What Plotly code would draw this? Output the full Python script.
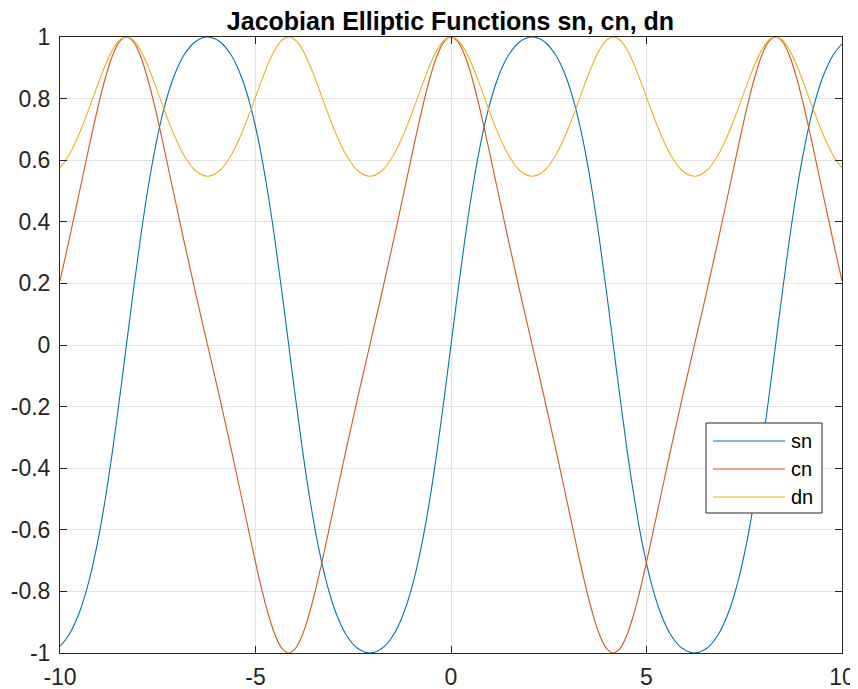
import plotly.graph_objects as go

# Sample points (x, sn, cn, dn)
x = [-10.0, -9.7655, -9.4977, -9.2579, -9.0411, -8.8420, -8.6552, -8.4763, -8.3011,
     -8.1259, -7.9470, -7.7602, -7.5611, -7.3443, -7.1045, -6.8367, -6.5408, -6.2258,
     -5.9109, -5.6150, -5.3472, -5.1074, -4.8906, -4.6915, -4.5047, -4.3258, -4.1506,
     -3.9754, -3.7965, -3.6097, -3.4106, -3.1938, -2.9540, -2.6862, -2.3903, -2.0753,
     -1.7603, -1.4644, -1.1966, -0.9568, -0.7400, -0.5409, -0.3541, -0.1752, 0.0,
     0.1752, 0.3541, 0.5409, 0.7400, 0.9568, 1.1966, 1.4644, 1.7603, 2.0753,
     2.3903, 2.6862, 2.9540, 3.1938, 3.4106, 3.6097, 3.7965, 3.9754, 4.1506,
     4.3258, 4.5047, 4.6915, 4.8906, 5.1074, 5.3472, 5.6150, 5.9109, 6.2258,
     6.5408, 6.8367, 7.1045, 7.3443, 7.5611, 7.7602, 7.9470, 8.1259, 8.3011,
     8.4763, 8.6552, 8.8420, 9.0411, 9.2579, 9.4977, 9.7655, 10.0]

sn = [-0.9781, -0.9397, -0.8660, -0.7660, -0.6428, -0.5, -0.3420, -0.1736, 0.0,
      0.1736, 0.3420, 0.5, 0.6428, 0.7660, 0.8660, 0.9397, 0.9848, 1.0,
      0.9848, 0.9397, 0.8660, 0.7660, 0.6428, 0.5, 0.3420, 0.1736, 0.0,
      -0.1736, -0.3420, -0.5, -0.6428, -0.7660, -0.8660, -0.9397, -0.9848, -1.0,
      -0.9848, -0.9397, -0.8660, -0.7660, -0.6428, -0.5, -0.3420, -0.1736, 0.0,
      0.1736, 0.3420, 0.5, 0.6428, 0.7660, 0.8660, 0.9397, 0.9848, 1.0,
      0.9848, 0.9397, 0.8660, 0.7660, 0.6428, 0.5, 0.3420, 0.1736, 0.0,
      -0.1736, -0.3420, -0.5, -0.6428, -0.7660, -0.8660, -0.9397, -0.9848, -1.0,
      -0.9848, -0.9397, -0.8660, -0.7660, -0.6428, -0.5, -0.3420, -0.1736, 0.0,
      0.1736, 0.3420, 0.5, 0.6428, 0.7660, 0.8660, 0.9397, 0.9781]

cn = [0.2081, 0.3420, 0.5, 0.6428, 0.7660, 0.8660, 0.9397, 0.9848, 1.0,
      0.9848, 0.9397, 0.8660, 0.7660, 0.6428, 0.5, 0.3420, 0.1736, 0.0,
      -0.1736, -0.3420, -0.5, -0.6428, -0.7660, -0.8660, -0.9397, -0.9848, -1.0,
      -0.9848, -0.9397, -0.8660, -0.7660, -0.6428, -0.5, -0.3420, -0.1736, 0.0,
      0.1736, 0.3420, 0.5, 0.6428, 0.7660, 0.8660, 0.9397, 0.9848, 1.0,
      0.9848, 0.9397, 0.8660, 0.7660, 0.6428, 0.5, 0.3420, 0.1736, 0.0,
      -0.1736, -0.3420, -0.5, -0.6428, -0.7660, -0.8660, -0.9397, -0.9848, -1.0,
      -0.9848, -0.9397, -0.8660, -0.7660, -0.6428, -0.5, -0.3420, -0.1736, 0.0,
      0.1736, 0.3420, 0.5, 0.6428, 0.7660, 0.8660, 0.9397, 0.9848, 1.0,
      0.9848, 0.9397, 0.8660, 0.7660, 0.6428, 0.5, 0.3420, 0.2081]

dn = [0.5747, 0.6180, 0.6892, 0.7676, 0.8431, 0.9083, 0.9582, 0.9894, 1.0,
      0.9894, 0.9582, 0.9083, 0.8431, 0.7676, 0.6892, 0.6180, 0.5667, 0.5477,
      0.5667, 0.6180, 0.6892, 0.7676, 0.8431, 0.9083, 0.9582, 0.9894, 1.0,
      0.9894, 0.9582, 0.9083, 0.8431, 0.7676, 0.6892, 0.6180, 0.5667, 0.5477,
      0.5667, 0.6180, 0.6892, 0.7676, 0.8431, 0.9083, 0.9582, 0.9894, 1.0,
      0.9894, 0.9582, 0.9083, 0.8431, 0.7676, 0.6892, 0.6180, 0.5667, 0.5477,
      0.5667, 0.6180, 0.6892, 0.7676, 0.8431, 0.9083, 0.9582, 0.9894, 1.0,
      0.9894, 0.9582, 0.9083, 0.8431, 0.7676, 0.6892, 0.6180, 0.5667, 0.5477,
      0.5667, 0.6180, 0.6892, 0.7676, 0.8431, 0.9083, 0.9582, 0.9894, 1.0,
      0.9894, 0.9582, 0.9083, 0.8431, 0.7676, 0.6892, 0.6180, 0.5747]

series_names = ["sn", "cn", "dn"]
series_colors = ["#0072BD", "#D95319", "#EDB120"]
x_ticks = [-10, -5, 0, 5, 10]
x_tick_labels = ["-10", "-5", "0", "5", "10"]
y_ticks = [-1, -0.8, -0.6, -0.4, -0.2, 0, 0.2, 0.4, 0.6, 0.8, 1]
y_tick_labels = ["-1", "-0.8", "-0.6", "-0.4", "-0.2", "0", "0.2", "0.4", "0.6", "0.8", "1"]
title = "Jacobian Elliptic Functions sn, cn, dn"

FONT = "Liberation Sans, Arial, sans-serif"
AXC = "#262626"

fig = go.Figure()
for name, ys, col in zip(series_names, [sn, cn, dn], series_colors):
    fig.add_trace(go.Scatter(x=x, y=ys, mode="lines", name=name,
                             line=dict(color=col, width=1.1, shape="spline", smoothing=1.0),
                             showlegend=False))

# the page body adds an 8px offset; work in window pixels and shift
OFF = 8
W, H = 858 - OFF, 689 - OFF
ml, mt = 60 - OFF, 37 - OFF
mr, mb = 16, 36
pw, ph = W - ml - mr, H - mt - mb

def px(xp):
    return (xp - OFF - ml) / pw

def py(yp):
    return 1 - (yp - OFF - mt) / ph

shapes = [dict(type="rect", xref="paper", yref="paper",
               x0=px(706), x1=px(822), y0=py(513), y1=py(423),
               line=dict(color=AXC, width=1), fillcolor="white", layer="above")]
annotations = []
for i, (name, col) in enumerate(zip(series_names, series_colors)):
    yy = 441 + i * 28
    shapes.append(dict(type="line", xref="paper", yref="paper",
                       x0=px(713), x1=px(785), y0=py(yy), y1=py(yy),
                       line=dict(color=col, width=1.1), layer="above"))
    annotations.append(dict(xref="paper", yref="paper", x=px(789), y=py(yy),
                            text=name, showarrow=False, xanchor="left", yanchor="middle",
                            font=dict(family=FONT, size=20, color="black")))

fig.update_layout(
    width=W, height=H,
    margin=dict(l=ml, r=mr, t=mt, b=mb, pad=0, autoexpand=False),
    paper_bgcolor="white", plot_bgcolor="white",
    title=dict(text="<b>" + title + "</b>", x=(450.5 - OFF) / W, xanchor="center",
               y=1 - (21 - OFF) / H, yanchor="middle", automargin=False,
               font=dict(family=FONT, size=25, color="black")),
    shapes=shapes, annotations=annotations,
    font=dict(family=FONT, size=23, color=AXC),
)
fig.update_xaxes(range=[-10, 10], tickvals=x_ticks, ticktext=x_tick_labels,
                 ticks="inside", ticklen=7, automargin=False, ticklabelstandoff=3,
                 tickcolor=AXC, showline=True, linecolor=AXC, linewidth=1, mirror="ticks",
                 showgrid=True, gridcolor="#e3e3e3", gridwidth=1, zeroline=False,
                 tickfont=dict(family=FONT, size=23, color=AXC))
fig.update_yaxes(range=[-1, 1], tickvals=y_ticks, ticktext=y_tick_labels, ticks="inside",
                 ticklen=7, automargin=False, ticklabelstandoff=4,
                 tickcolor=AXC, showline=True, linecolor=AXC, linewidth=1,
                 mirror="ticks", showgrid=True, gridcolor="#e3e3e3", gridwidth=1,
                 zeroline=False, tickfont=dict(family=FONT, size=23, color=AXC))

fig.write_html("out.html")
